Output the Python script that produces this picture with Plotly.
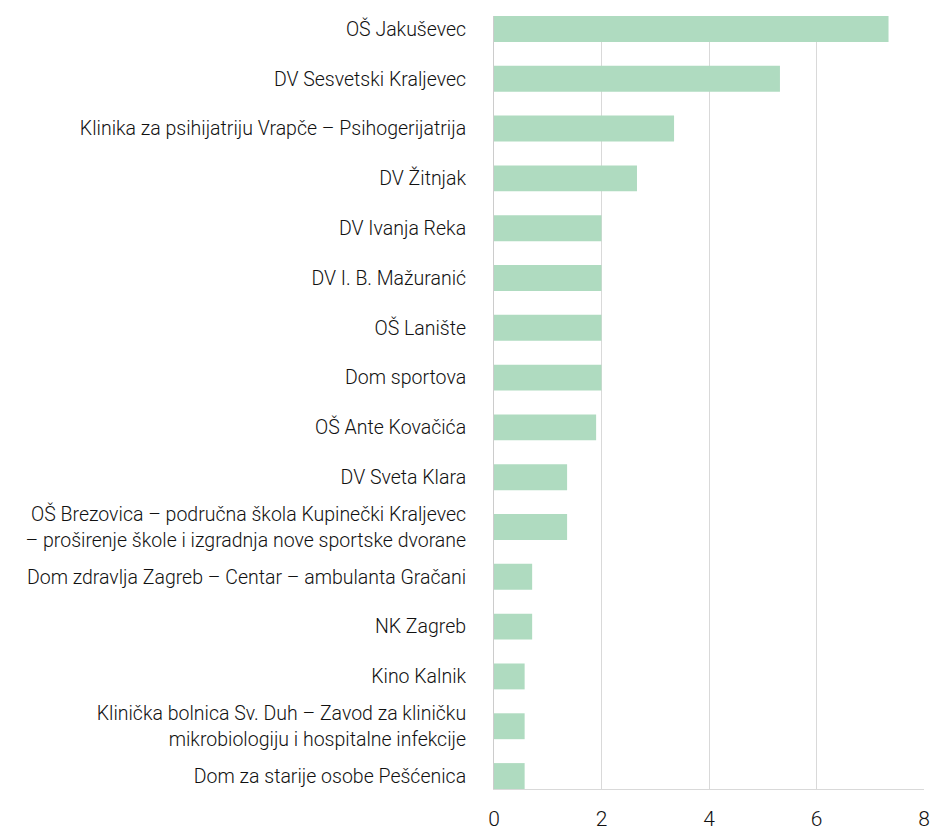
import plotly.graph_objects as go

categories = [
    "OŠ Jakuševec",
    "DV Sesvetski Kraljevec",
    "Klinika za psihijatriju Vrapče – Psihogerijatrija",
    "DV Žitnjak",
    "DV Ivanja Reka",
    "DV I. B. Mažuranić",
    "OŠ Lanište",
    "Dom sportova",
    "OŠ Ante Kovačića",
    "DV Sveta Klara",
    "OŠ Brezovica – područna škola Kupinečki Kraljevec<br>– proširenje škole i izgradnja nove sportske dvorane",
    "Dom zdravlja Zagreb – Centar – ambulanta Gračani",
    "NK Zagreb",
    "Kino Kalnik",
    "Klinička bolnica Sv. Duh – Zavod za kliničku<br>mikrobiologiju i hospitalne infekcije",
    "Dom za starije osobe Pešćenica",
]
values = [7.34, 5.32, 3.35, 2.66, 2.0, 2.0, 2.0, 2.0, 1.9, 1.36, 1.36, 0.71, 0.71, 0.57, 0.57, 0.57]
x_ticks = [0, 2, 4, 6, 8]

fig = go.Figure(go.Bar(
    x=values, y=categories, orientation="h",
    marker=dict(color="#afdbc0", line=dict(width=0)),
    width=0.52,
))

fig.update_layout(
    width=932, height=831,
    margin=dict(l=494, r=8, t=16, b=42, autoexpand=False),
    paper_bgcolor="white", plot_bgcolor="white",
    showlegend=False,
    font=dict(family="Roboto", color="#111111", weight=300),
    bargap=0.48,
)
fig.update_xaxes(
    range=[0, 8], tickvals=x_ticks, automargin=False,
    showgrid=True, gridcolor="#d9d9d9", gridwidth=1,
    zeroline=False, showline=True, linecolor="#d9d9d9", linewidth=1,
    tickfont=dict(size=21, color="#111111", weight=300),
    ticks="", ticklabelstandoff=11, ticklabeloverflow="allow",
)
fig.update_yaxes(
    type="category", range=[15.26, -0.26], automargin=False,
    showgrid=False, zeroline=False,
    showline=True, linecolor="#cccccc", linewidth=1,
    tickfont=dict(size=19.5, color="#111111", weight=300),
    ticks="", ticklabelstandoff=23, ticklabeloverflow="allow",
)

fig.write_html(
    "out.html",
    config={"displayModeBar": False},
    post_script="document.body.style.margin='0';document.body.style.overflow='hidden';",
)
